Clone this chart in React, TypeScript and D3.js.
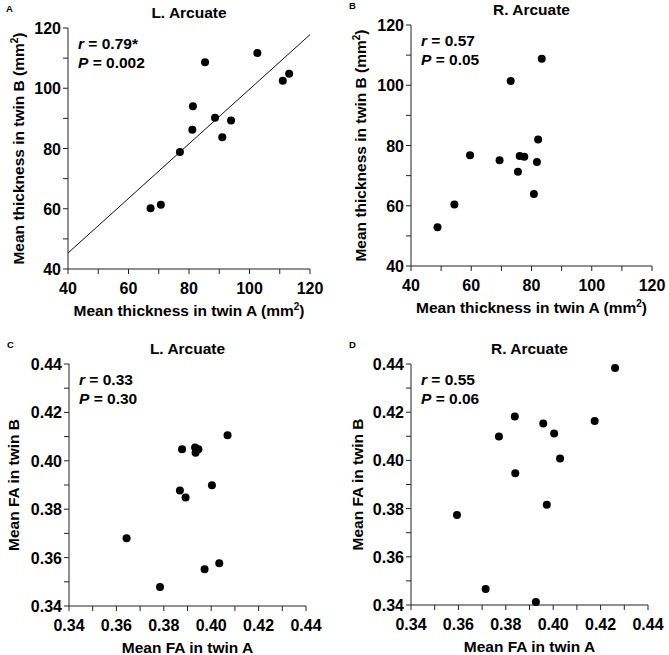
import React from "react";
import * as d3 from "d3";

// Panel A: L. Arcuate thickness
const leftThickA = [67.3, 70.7, 77.0, 81.1, 81.3, 85.3, 88.6, 91.0, 93.9, 102.6, 111.0, 113.1];
const leftThickB = [60.2, 61.3, 78.8, 86.2, 94.0, 108.6, 90.2, 83.7, 89.3, 111.7, 102.5, 104.8];
// Panel B: R. Arcuate thickness
const rightThickA = [48.8, 54.4, 59.6, 69.4, 73.1, 75.5, 76.1, 77.6, 80.8, 81.8, 82.2, 83.4];
const rightThickB = [52.9, 60.4, 76.8, 75.1, 101.4, 71.3, 76.5, 76.3, 63.9, 74.5, 82.0, 108.8];
// Panel C: L. Arcuate FA
const leftFAA = [0.3643, 0.3784, 0.3868, 0.3892, 0.3877, 0.3932, 0.3934, 0.3946, 0.3972, 0.4003, 0.4034, 0.4069];
const leftFAB = [0.368, 0.3479, 0.3877, 0.3848, 0.4048, 0.4055, 0.4033, 0.4048, 0.3552, 0.3899, 0.3577, 0.4106];
// Panel D: R. Arcuate FA
const rightFAA = [0.3594, 0.3715, 0.3771, 0.3838, 0.384, 0.3927, 0.3958, 0.3973, 0.4004, 0.4029, 0.4175, 0.4261];
const rightFAB = [0.3773, 0.3466, 0.4099, 0.4182, 0.3947, 0.3412, 0.4153, 0.3816, 0.4112, 0.4008, 0.4164, 0.4383];

// Tick values
const thickTicks = [40, 60, 80, 100, 120];
const thickMinor = [50, 70, 90, 110];
const faTicks = [0.34, 0.36, 0.38, 0.4, 0.42, 0.44];
const faMinor = [0.35, 0.37, 0.39, 0.41, 0.43];

// Regression line for panel A (endpoints)
const fitX = [40, 120];
const fitY = [45.3, 117.8];

const FONT = "'Liberation Sans', Arial, Helvetica, sans-serif";

type PanelProps = {
  letter: string;
  title: string;
  xs: number[];
  ys: number[];
  domain: [number, number];
  ticks: number[];
  minor: number[];
  fmt: (v: number) => string;
  box: { l: number; r: number; t: number; b: number };
  xTitle: string;
  yTitle: string;
  unit: boolean;
  rText: string;
  pText: string;
  fit?: boolean;
  yTitleX: number;
};

function Panel(p: PanelProps) {
  const x = d3.scaleLinear().domain(p.domain).range([p.box.l, p.box.r]);
  const y = d3.scaleLinear().domain(p.domain).range([p.box.b, p.box.t]);
  const cx = (p.box.l + p.box.r) / 2;
  const cy = (p.box.t + p.box.b) / 2;
  const tickLen = 5;
  const allTicks = [...p.ticks, ...p.minor];
  const line = d3
    .line<number>()
    .x((_, i) => x(fitX[i]))
    .y((_, i) => y(fitY[i]));
  return (
    <g>
      <text x={p.box.l - 62} y={p.box.t - 16} fontSize={9.5} fontWeight="bold" fontFamily={FONT}>
        {p.letter}
      </text>
      <text x={cx} y={p.box.t - 10} fontSize={15.5} fontWeight="bold" textAnchor="middle" fontFamily={FONT}>
        {p.title}
      </text>
      {/* axes */}
      <line x1={p.box.l} x2={p.box.l} y1={p.box.t} y2={p.box.b} stroke="#222" strokeWidth={1} />
      <line x1={p.box.l} x2={p.box.r} y1={p.box.b} y2={p.box.b} stroke="#222" strokeWidth={1} />
      {allTicks.map((v) => (
        <line key={"xt" + v} x1={x(v)} x2={x(v)} y1={p.box.b} y2={p.box.b + tickLen} stroke="#222" />
      ))}
      {allTicks.map((v) => (
        <line key={"yt" + v} x1={p.box.l - tickLen} x2={p.box.l} y1={y(v)} y2={y(v)} stroke="#222" />
      ))}
      {p.ticks.map((v) => (
        <text key={"xl" + v} x={x(v)} y={p.box.b + 24.5} fontSize={16} fontWeight="bold" textAnchor="middle" fontFamily={FONT}>
          {p.fmt(v)}
        </text>
      ))}
      {p.ticks.map((v) => (
        <text key={"yl" + v} x={p.box.l - 7} y={y(v) + 6} fontSize={16} fontWeight="bold" textAnchor="end" fontFamily={FONT}>
          {p.fmt(v)}
        </text>
      ))}
      {/* axis titles */}
      <text x={cx} y={p.box.b + 46.5} fontSize={15.5} fontWeight="bold" textAnchor="middle" fontFamily={FONT}>
        {p.xTitle}
        {p.unit ? (
          <>
            {" (mm"}
            <tspan dy={-6} fontSize={10}>2</tspan>
            <tspan dy={6}>)</tspan>
          </>
        ) : null}
      </text>
      <text
        transform={`translate(${p.yTitleX},${cy}) rotate(-90)`}
        fontSize={15.5}
        fontWeight="bold"
        textAnchor="middle"
        fontFamily={FONT}
      >
        {p.yTitle}
        {p.unit ? (
          <>
            {" (mm"}
            <tspan dy={-6} fontSize={10}>2</tspan>
            <tspan dy={6}>)</tspan>
          </>
        ) : null}
      </text>
      {/* stats */}
      <text x={p.box.l + 10} y={p.box.t + 21} fontSize={15.5} fontWeight="bold" fontFamily={FONT}>
        <tspan fontStyle="italic">r</tspan>
        {" = " + p.rText}
      </text>
      <text x={p.box.l + 10} y={p.box.t + 40} fontSize={15.5} fontWeight="bold" fontFamily={FONT}>
        <tspan fontStyle="italic">P</tspan>
        {" = " + p.pText}
      </text>
      {p.fit ? <path d={line(fitX) || ""} stroke="#111" strokeWidth={1} fill="none" /> : null}
      {p.xs.map((v, i) => (
        <circle key={"pt" + i} cx={x(v)} cy={y(p.ys[i])} r={4} fill="#000" />
      ))}
    </g>
  );
}

export default function App() {
  const fmtInt = (v: number) => d3.format("d")(v);
  const fmtFA = (v: number) => d3.format(".2f")(v);
  return (
    <svg
      width={669}
      height={655}
      style={{ position: "absolute", left: 0, top: 0, background: "#fff" }}
    >
      <rect width={669} height={655} fill="#fff" />
      <Panel
        letter="A"
        title="L. Arcuate"
        xs={leftThickA}
        ys={leftThickB}
        domain={[40, 120]}
        ticks={thickTicks}
        minor={thickMinor}
        fmt={fmtInt}
        box={{ l: 68, r: 310, t: 28, b: 269 }}
        xTitle="Mean thickness in twin A"
        yTitle="Mean thickness in twin B"
        unit={true}
        rText="0.79*"
        pText="0.002"
        fit={true}
        yTitleX={24}
      />
      <Panel
        letter="B"
        title="R. Arcuate"
        xs={rightThickA}
        ys={rightThickB}
        domain={[40, 120]}
        ticks={thickTicks}
        minor={thickMinor}
        fmt={fmtInt}
        box={{ l: 411, r: 652, t: 25, b: 266 }}
        xTitle="Mean thickness in twin A"
        yTitle="Mean thickness in twin B"
        unit={true}
        rText="0.57"
        pText="0.05"
        yTitleX={366}
      />
      <Panel
        letter="C"
        title="L. Arcuate"
        xs={leftFAA}
        ys={leftFAB}
        domain={[0.34, 0.44]}
        ticks={faTicks}
        minor={faMinor}
        fmt={fmtFA}
        box={{ l: 69, r: 306, t: 364, b: 606 }}
        xTitle="Mean FA in twin A"
        yTitle="Mean FA in twin B"
        unit={false}
        rText="0.33"
        pText="0.30"
        yTitleX={19}
      />
      <Panel
        letter="D"
        title="R. Arcuate"
        xs={rightFAA}
        ys={rightFAB}
        domain={[0.34, 0.44]}
        ticks={faTicks}
        minor={faMinor}
        fmt={fmtFA}
        box={{ l: 411, r: 648, t: 364, b: 605 }}
        xTitle="Mean FA in twin A"
        yTitle="Mean FA in twin B"
        unit={false}
        rText="0.55"
        pText="0.06"
        yTitleX={363}
      />
    </svg>
  );
}
